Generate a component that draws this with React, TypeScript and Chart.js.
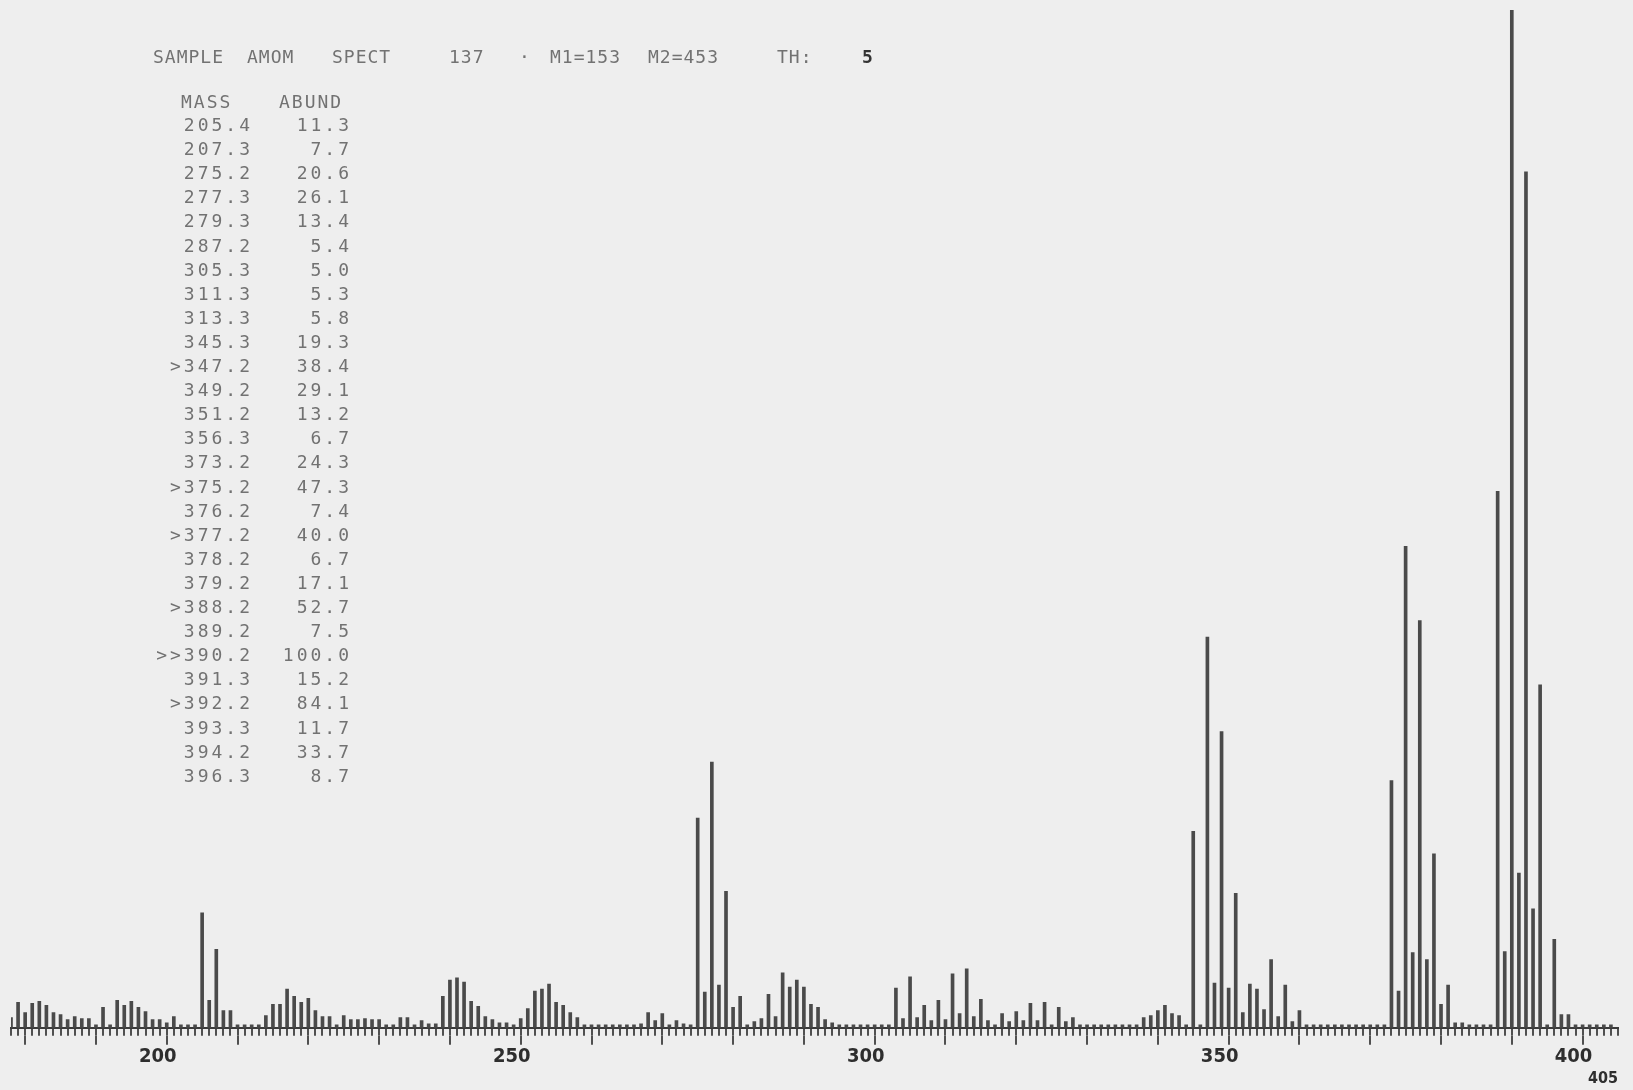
import React, { useEffect, useRef } from "react";
import { Chart, registerables } from "chart.js";

Chart.register(...registerables);

// Nominal masses (m/z) and relative abundances (%)
const masses = [
  178, 179, 180, 181, 182, 183, 184, 185, 186, 187, 188, 189, 190, 191, 192, 193, 194, 195, 196, 197, 198, 199,
  200, 201, 202, 203, 204, 205, 206, 207, 208, 209, 210, 211, 212, 213, 214, 215, 216, 217, 218, 219,
  220, 221, 222, 223, 224, 225, 226, 227, 228, 229, 230, 231, 232, 233, 234, 235, 236, 237, 238, 239,
  240, 241, 242, 243, 244, 245, 246, 247, 248, 249, 250, 251, 252, 253, 254, 255, 256, 257, 258, 259,
  260, 261, 262, 263, 264, 265, 266, 267, 268, 269, 270, 271, 272, 273, 274, 275, 276, 277, 278, 279,
  280, 281, 282, 283, 284, 285, 286, 287, 288, 289, 290, 291, 292, 293, 294, 295, 296, 297, 298, 299,
  300, 301, 302, 303, 304, 305, 306, 307, 308, 309, 310, 311, 312, 313, 314, 315, 316, 317, 318, 319,
  320, 321, 322, 323, 324, 325, 326, 327, 328, 329, 330, 331, 332, 333, 334, 335, 336, 337, 338, 339,
  340, 341, 342, 343, 344, 345, 346, 347, 348, 349, 350, 351, 352, 353, 354, 355, 356, 357, 358, 359,
  360, 361, 362, 363, 364, 365, 366, 367, 368, 369, 370, 371, 372, 373, 374, 375, 376, 377, 378, 379,
  380, 381, 382, 383, 384, 385, 386, 387, 388, 389, 390, 391, 392, 393, 394, 395, 396, 397, 398, 399,
  400, 401, 402, 403, 404,
];

const abundances = [
  1.0, 2.5, 1.5, 2.4, 2.6, 2.2, 1.5, 1.3, 0.8, 1.1, 0.9, 0.9, 0.3, 2.0, 0.3, 2.7, 2.2, 2.6, 2.0, 1.6, 0.8, 0.8,
  0.5, 1.1, 0.3, 0.3, 0.3, 11.3, 2.7, 7.7, 1.7, 1.7, 0.3, 0.3, 0.3, 0.3, 1.2, 2.3, 2.3, 3.8, 3.1, 2.5,
  2.9, 1.7, 1.1, 1.1, 0.3, 1.2, 0.8, 0.8, 0.9, 0.8, 0.8, 0.3, 0.3, 1.0, 1.0, 0.3, 0.7, 0.4, 0.4, 3.1,
  4.7, 4.9, 4.5, 2.6, 2.1, 1.1, 0.8, 0.5, 0.5, 0.3, 0.9, 1.9, 3.6, 3.8, 4.3, 2.5, 2.2, 1.5, 1.0, 0.3,
  0.3, 0.3, 0.3, 0.3, 0.3, 0.3, 0.3, 0.4, 1.5, 0.7, 1.4, 0.3, 0.7, 0.4, 0.3, 20.6, 3.5, 26.1, 4.2, 13.4,
  2.0, 3.1, 0.3, 0.6, 0.9, 3.3, 1.1, 5.4, 4.0, 4.7, 4.0, 2.3, 2.0, 0.8, 0.5, 0.3, 0.3, 0.3, 0.3, 0.3,
  0.3, 0.3, 0.3, 3.9, 0.9, 5.0, 1.0, 2.2, 0.7, 2.7, 0.8, 5.3, 1.4, 5.8, 1.1, 2.8, 0.7, 0.3, 1.4, 0.6,
  1.6, 0.7, 2.4, 0.7, 2.5, 0.3, 2.0, 0.6, 1.0, 0.3, 0.3, 0.3, 0.3, 0.3, 0.3, 0.3, 0.3, 0.3, 1.0, 1.2,
  1.7, 2.2, 1.4, 1.2, 0.3, 19.3, 0.3, 38.4, 4.4, 29.1, 3.9, 13.2, 1.5, 4.3, 3.8, 1.8, 6.7, 1.1, 4.2, 0.6,
  1.7, 0.3, 0.3, 0.3, 0.3, 0.3, 0.3, 0.3, 0.3, 0.3, 0.3, 0.3, 0.3, 24.3, 3.6, 47.3, 7.4, 40.0, 6.7, 17.1,
  2.3, 4.2, 0.5, 0.5, 0.3, 0.3, 0.3, 0.3, 52.7, 7.5, 100.0, 15.2, 84.1, 11.7, 33.7, 0.3, 8.7, 1.3, 1.3, 0.3,
  0.3, 0.3, 0.3, 0.3, 0.3,
];

const axisMin = 178;
const axisMax = 405;
const labelledTicks = [200, 250, 300, 350, 400];
const axisEndLabel = "405";

const headerWords = ["SAMPLE", "AMOM", "SPECT", "137", "·", "M1=153", "M2=453", "TH:", "5"];
const headerLefts = [153, 247, 332, 449, 519, 550, 648, 777, 862];

const tableHeader = ["MASS", "ABUND"];
const tableMass = [
  "205.4", "207.3", "275.2", "277.3", "279.3", "287.2", "305.3", "311.3", "313.3", "345.3",
  ">347.2", "349.2", "351.2", "356.3", "373.2", ">375.2", "376.2", ">377.2", "378.2", "379.2",
  ">388.2", "389.2", ">>390.2", "391.3", ">392.2", "393.3", "394.2", "396.3",
];
const tableAbund = [
  "11.3", "7.7", "20.6", "26.1", "13.4", "5.4", "5.0", "5.3", "5.8", "19.3",
  "38.4", "29.1", "13.2", "6.7", "24.3", "47.3", "7.4", "40.0", "6.7", "17.1",
  "52.7", "7.5", "100.0", "15.2", "84.1", "11.7", "33.7", "8.7",
];

const W = 1633;
const H = 1090;
const textColor = "#727272";
const mono = "'DejaVu Sans Mono', 'Liberation Mono', monospace";
const labelFont = "'Liberation Sans Narrow', 'DejaVu Sans Condensed', sans-serif";

export default function App() {
  const canvasRef = useRef<HTMLCanvasElement>(null);

  useEffect(() => {
    const canvas = canvasRef.current;
    if (!canvas) return;
    const points = masses.map((m, i) => ({ x: m, y: abundances[i] }));
    const chart = new Chart(canvas, {
      type: "bar",
      data: {
        datasets: [
          {
            data: points as any,
            backgroundColor: "#4a4a4a",
            borderWidth: 0,
            barThickness: 3,
            grouped: false,
            xAxisID: "x",
            yAxisID: "y",
          } as any,
        ],
      },
      options: {
        responsive: false,
        animation: false,
        events: [],
        layout: { padding: { left: 11, right: 15, top: 10, bottom: 0 } },
        plugins: {
          legend: { display: false },
          tooltip: { enabled: false },
          title: { display: false },
        },
        scales: {
          y: { display: false, min: 0, max: 100 },
          x: {
            type: "linear",
            position: "bottom",
            offset: false,
            min: axisMin,
            max: axisMax,
            border: { display: true, color: "#3a3a3a", width: 2 },
            grid: {
              display: true,
              offset: false,
              drawOnChartArea: false,
              drawTicks: true,
              tickLength: 8,
              color: "#505050",
              lineWidth: 2,
            },
            ticks: { display: false, stepSize: 1, autoSkip: false, includeBounds: false } as any,
          },
          x2: {
            type: "linear",
            position: "bottom",
            offset: false,
            min: axisMin,
            max: axisMax,
            border: { display: false },
            grid: {
              display: true,
              offset: false,
              drawOnChartArea: false,
              drawTicks: true,
              tickLength: 9,
              color: "#505050",
              lineWidth: 2,
            },
            ticks: {
              stepSize: 10,
              autoSkip: false,
              includeBounds: false,
              maxRotation: 0,
              minRotation: 0,
              padding: 0,
              labelOffset: -9,
              color: "#2e2e2e",
              font: { family: labelFont, size: 20, weight: "bold" },
              callback: (v: any) => (labelledTicks.includes(Number(v)) ? String(v) : ""),
            } as any,
            title: {
              display: true,
              text: axisEndLabel,
              align: "end",
              color: "#2e2e2e",
              padding: { top: 0, bottom: 2 },
              font: { family: labelFont, size: 16, weight: "bold" },
            },
          },
        },
      } as any,
    });
    return () => chart.destroy();
  }, []);

  const rowStyle = (right: number, i: number): React.CSSProperties => ({
    position: "absolute",
    right,
    top: 114 + i * 24.1,
    fontFamily: mono,
    fontSize: 18,
    lineHeight: "22px",
    letterSpacing: 3,
    color: textColor,
    whiteSpace: "pre",
    textAlign: "right",
  });

  return (
    <div
      style={{
        position: "fixed",
        left: 0,
        top: 0,
        width: W,
        height: H,
        background: "#eeeeee",
        overflow: "hidden",
      }}
    >
      <canvas ref={canvasRef} width={W} height={H} style={{ position: "absolute", left: 0, top: 0, width: W, height: H }} />
      {headerWords.map((w, i) => (
        <div
          key={"h" + i}
          style={{
            position: "absolute",
            left: headerLefts[i],
            top: 47,
            fontFamily: mono,
            fontSize: 18,
            lineHeight: "20px",
            letterSpacing: 1,
            color: w === "5" ? "#333" : textColor,
            fontWeight: w === "5" ? "bold" : "normal",
            whiteSpace: "pre",
          }}
        >
          {w}
        </div>
      ))}
      <div style={{ position: "absolute", left: 181, top: 91, fontFamily: mono, fontSize: 18, lineHeight: "22px", letterSpacing: 2, color: textColor }}>
        {tableHeader[0]}
      </div>
      <div style={{ position: "absolute", left: 279, top: 91, fontFamily: mono, fontSize: 18, lineHeight: "22px", letterSpacing: 2, color: textColor }}>
        {tableHeader[1]}
      </div>
      {tableMass.map((m, i) => (
        <React.Fragment key={"r" + i}>
          <div style={rowStyle(W - 253, i)}>{m}</div>
          <div style={rowStyle(W - 352, i)}>{tableAbund[i]}</div>
        </React.Fragment>
      ))}
    </div>
  );
}
